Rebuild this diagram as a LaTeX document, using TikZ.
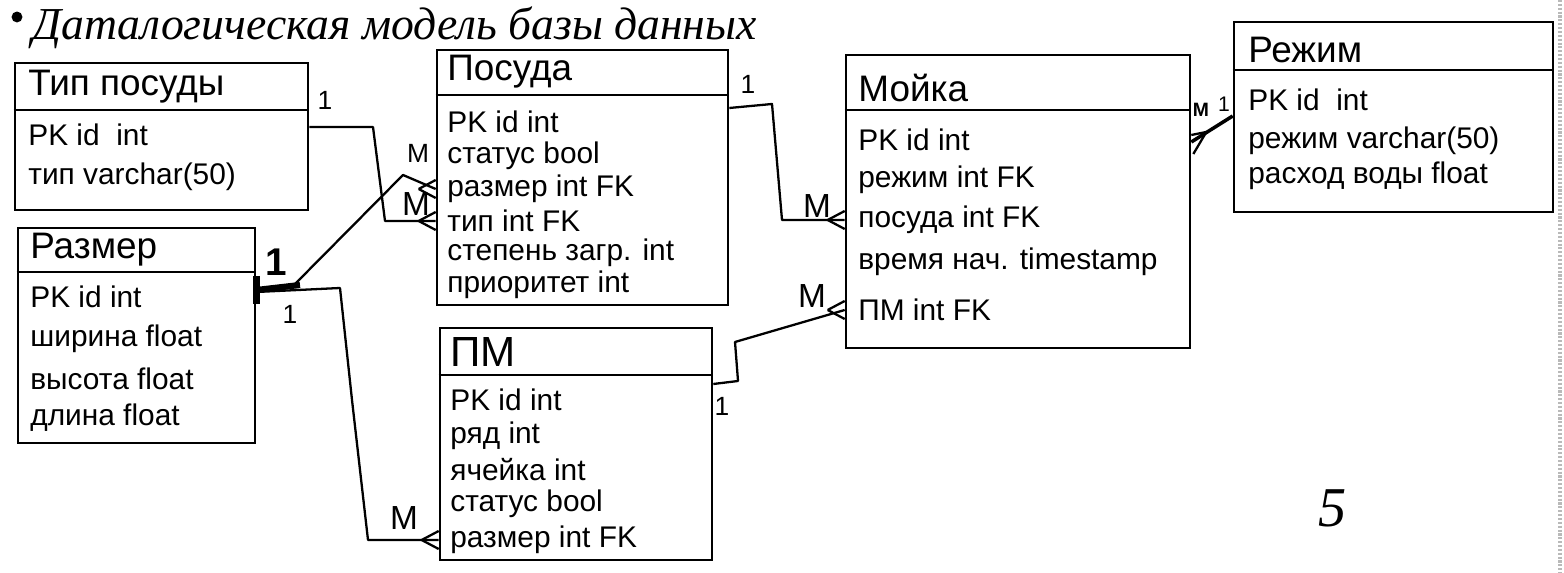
\documentclass[tikz,border=0pt]{standalone}
\usepackage{fontspec}
\setmainfont{Liberation Sans}
\newfontfamily\titlefont{Liberation Serif}
\usetikzlibrary{fit,calc}
\tikzset{
  tbl/.style={draw, line width=1.5pt, inner sep=0pt, fit=#1},
  ttl/.style={anchor=west, inner sep=0pt, font=\fontsize{21}{23}\selectfont},
  row/.style={anchor=west, inner sep=0pt, font=\fontsize{17}{19}\selectfont},
  conn/.style={line width=1.3pt, line join=round},
  lbl/.style={inner sep=0pt, font=\fontsize{15}{17}\selectfont},
  sep/.style={line width=1.5pt},
}
\newcommand{\crowL}[1]{% crow's foot, entity on the right of point #1
  \draw[conn] ($(#1)+(-17,0)$) -- ($(#1)+(0,-9)$);
  \draw[conn] ($(#1)+(-17,0)$) -- ($(#1)+(0,9)$);}
\begin{document}
\begin{tikzpicture}[x=0.02cm,y=-0.02cm]
\useasboundingbox (0,0) rectangle (1564,573);
\fill[white] (0,0) rectangle (1564,573);
% scan edge
\draw[gray!55, line width=2.5pt, dash pattern=on 1.2pt off 1pt] (1560,0) -- (1560,573);

% title
\node[circle, fill, inner sep=2.2pt] (bullet) at (17,17) {};
\node[anchor=west, inner sep=0pt, font=\titlefont\itshape\fontsize{26}{28}\selectfont] (title) at (32,28) {Даталогическая модель базы данных};

% ---- Тип посуды
\coordinate (t1) at (15,63); \coordinate (t2) at (308,210);
\node[tbl=(t1)(t2)] (tip) {};
\draw[sep] (tip.west |- 0,110) -- (tip.east |- 0,110);
\node[ttl] (tipT) at (28,87) {Тип посуды};
\node[row] (tp1) at (28,135) {PK id\ \ int};
\node[row] (tp2) at (28,177) {тип varchar(50)};

% ---- Размер
\coordinate (r1) at (18,228); \coordinate (r2) at (255,443);
\node[tbl=(r1)(r2)] (razmer) {};
\draw[sep] (razmer.west |- 0,272) -- (razmer.east |- 0,272);
\node[ttl] (rzT) at (30,250) {Размер};
\node[row] (rz1) at (30,297) {PK id int};
\node[row] (rz2) at (30,339) {ширина float};
\node[row] (rz3) at (30,379) {высота float};
\node[row] (rz4) at (30,418) {длина float};

% ---- Посуда
\coordinate (p1) at (437,50); \coordinate (p2) at (728,305);
\node[tbl=(p1)(p2)] (posuda) {};
\draw[sep] (posuda.west |- 0,95) -- (posuda.east |- 0,95);
\node[ttl] (psT) at (447,72) {Посуда};
\node[row] (ps1) at (447,122) {PK id int};
\node[row] (ps2) at (447,156) {статус bool};
\node[row] (ps3) at (447,189) {размер int FK};
\node[row] (ps4) at (447,221) {тип int FK};
\node[row] (ps5) at (447,253) {степень загр. int};
\node[row] (ps6) at (447,285) {приоритет int};

% ---- ПМ
\coordinate (m1) at (440,328); \coordinate (m2) at (712,560);
\node[tbl=(m1)(m2)] (pm) {};
\draw[sep] (pm.west |- 0,375) -- (pm.east |- 0,375);
\node[ttl, font=\fontsize{24}{26}\selectfont] (pmT) at (450,352) {ПМ};
\node[row] (pm1) at (450,400) {PK id int};
\node[row] (pm2) at (450,436) {ряд int};
\node[row] (pm3) at (450,470) {ячейка int};
\node[row] (pm4) at (450,504) {статус bool};
\node[row] (pm5) at (450,540) {размер int FK};

% ---- Мойка
\coordinate (k1) at (846,55); \coordinate (k2) at (1190,348);
\node[tbl=(k1)(k2)] (moyka) {};
\draw[sep] (moyka.west |- 0,110) -- (moyka.east |- 0,110);
\node[ttl] (mkT) at (858,88) {Мойка};
\node[row] (mk1) at (858,140) {PK id int};
\node[row] (mk2) at (858,180) {режим int FK};
\node[row] (mk3) at (858,220) {посуда int FK};
\node[row] (mk4) at (858,262) {время нач. timestamp};
\node[row] (mk5) at (858,310) {ПМ int FK};

% ---- Режим
\coordinate (h1) at (1234,22); \coordinate (h2) at (1553,212);
\node[tbl=(h1)(h2)] (rezhim) {};
\draw[sep] (rezhim.west |- 0,70) -- (rezhim.east |- 0,70);
\node[ttl] (rhT) at (1248,50) {Режим};
\node[row] (rh1) at (1248,100) {PK id\ \ int};
\node[row] (rh2) at (1248,141) {режим varchar(50)};
\node[row] (rh3) at (1248,176) {расход воды float};

% ---- connectors
% Тип посуды 1 -- M Посуда.тип
\draw[conn] (tip.east |- 0,127) -- (373,127) -- (385,221) -- (posuda.west |- ps4);
\coordinate (e1) at (posuda.west |- ps4); \crowL{e1}
\node[lbl] (l1a) at (325,100) {1};
\node[lbl, font=\fontsize{19}{21}\selectfont] (l1b) at (416,204) {M};

% Размер 1 -- M Посуда.размер
\draw[conn] (razmer.east |- 0,290) -- (295,284) -- (403,175) -- (posuda.west |- ps3);
\coordinate (e2) at (posuda.west |- ps3); \crowL{e2}
\node[lbl, font=\bfseries\fontsize{22}{24}\selectfont] (l2a) at (276,262) {1};
\node[lbl] (l2b) at (418,153) {M};

% thick mark at Размер
\draw[line width=4pt] (razmer.east |- 0,276) -- (razmer.east |- 0,304);
\draw[line width=3.5pt] (razmer.east |- 0,290) -- (300,285);

% Размер 1 -- M ПМ.размер
\draw[conn] (razmer.east |- 0,292) -- (340,288) -- (352,400) -- (368,540) -- (pm.west |- pm5);
\coordinate (e3) at (pm.west |- pm5); \crowL{e3}
\node[lbl] (l3a) at (290,314) {1};
\node[lbl, font=\fontsize{19}{21}\selectfont] (l3b) at (404,518) {M};

% Посуда 1 -- M Мойка.посуда
\draw[conn] (posuda.east |- 0,108) -- (772,104) -- (782,220) -- (moyka.west |- mk3);
\coordinate (e4) at (moyka.west |- mk3); \crowL{e4}
\node[lbl] (l4a) at (748,84) {1};
\node[lbl, font=\fontsize{19}{21}\selectfont] (l4b) at (817,206) {M};

% ПМ 1 -- M Мойка.ПМ
\draw[conn] (pm.east |- 0,384) -- (738,381) -- (735,342) -- (moyka.west |- mk5);
\coordinate (e5) at (moyka.west |- mk5); \crowL{e5}
\node[lbl] (l5a) at (722,406) {1};
\node[lbl, font=\fontsize{19}{21}\selectfont] (l5b) at (812,296) {M};

% Мойка M -- 1 Режим
\coordinate (e6) at (moyka.east |- 0,142);
\draw[conn, line width=2pt] (e6) -- (rezhim.west |- 0,116);
\draw[conn] ($(e6)+(15,-10)$) -- ($(e6)+(0,-7)$);
\draw[conn] ($(e6)+(15,-10)$) -- ($(e6)+(2,12)$);
\node[lbl, font=\fontsize{11}{12}\selectfont\bfseries] (l6a) at (1201,110) {M};
\node[lbl, font=\fontsize{12}{13}\selectfont] (l6b) at (1224,104) {1};

% page number
\node[inner sep=0pt, font=\titlefont\itshape\fontsize{32}{34}\selectfont] (page) at (1333,508) {5};
\end{tikzpicture}
\end{document}
